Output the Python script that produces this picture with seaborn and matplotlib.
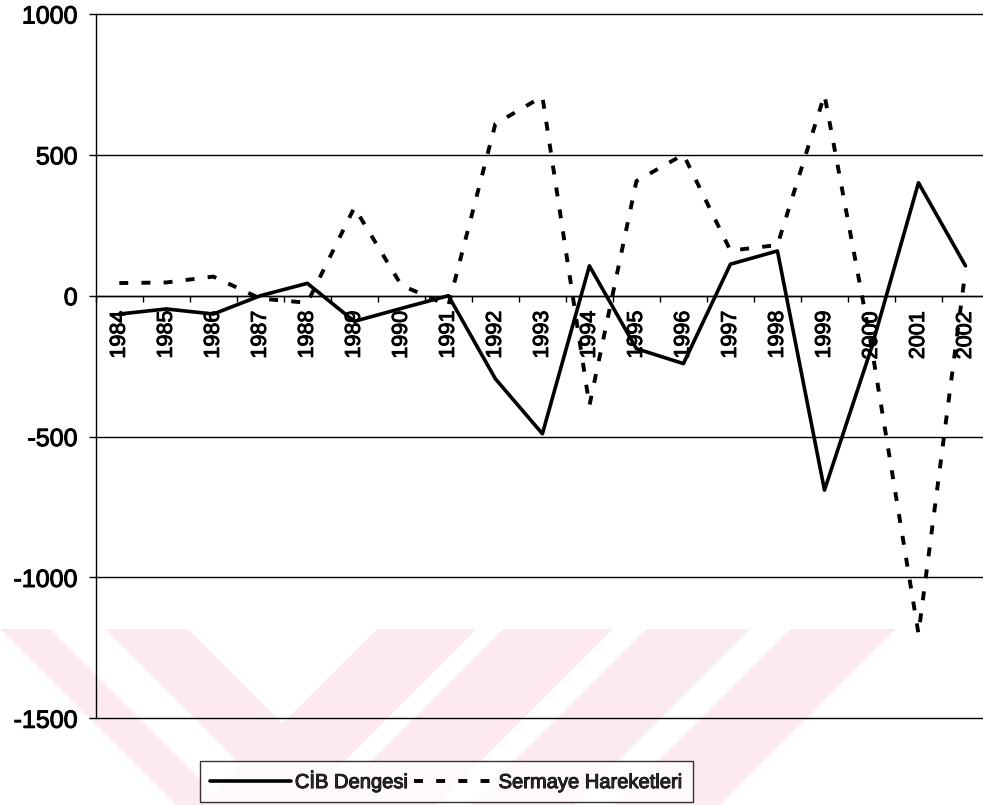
import numpy as np
import pandas as pd
import matplotlib.pyplot as plt
import matplotlib.patheffects as pe
import seaborn as sns
from matplotlib.patches import Polygon

# yillar ve seriler
years = [str(y) for y in range(1984, 2003)]
cib_dengesi = [-65, -47, -65, 0, 44, -91, -45, 0, -295, -490,
               106, -188, -241, 112, 159, -690, -185, 401, 106]
sermaye = [45, 47, 68, -10, -25, 313, 37, -35, 610, 707,
           -390, 407, 501, 160, 180, 713, -180, -1200, 90]
yticks = [-1500, -1000, -500, 0, 500, 1000]

df = pd.DataFrame({'yil': years, 'cib': cib_dengesi, 'sermaye': sermaye})

sns.set_style('white')
plt.rcParams['font.family'] = ['Liberation Sans', 'DejaVu Sans']

W, H = 983, 805
fig = plt.figure(figsize=(W / 100, H / 100), dpi=100)
fig.patch.set_facecolor('white')

# soluk pembe filigran (tarama izi)
pink = '#fdeaee'
top, bot = 629, 805
for x0, x1, d in [(0, 50, 1), (105, 188, 1), (377, 477, -1),
                  (503, 613, -1), (646, 750, -1), (790, 896, -1)]:
    s = d * (bot - top)
    pts = [(x0, top), (x1, top), (x1 + s, bot), (x0 + s, bot)]
    pts = [(px / W, 1 - py / H) for px, py in pts]
    fig.add_artist(Polygon(pts, closed=True, transform=fig.transFigure,
                           facecolor=pink, edgecolor='none', zorder=-5))

ax = fig.add_axes([95.8 / W, 1 - 718.3 / H, (989 - 95.8) / W, (718.3 - 14) / H])
ax.set_facecolor('none')

sns.lineplot(data=df, x='yil', y='cib', ax=ax, color='black', lw=2.6,
             label='CİB Dengesi', sort=False)
sns.lineplot(data=df, x='yil', y='sermaye', ax=ax, color='black', lw=2.8,
             linestyle=(0, (2.3, 3.4)), dash_capstyle='butt',
             label='Sermaye Hareketleri', sort=False)

ax.set_xlim(-0.5, len(years) - 0.5)
ax.set_ylim(-1500, 1000)
ax.set_yticks(yticks)
ax.set_yticklabels([str(v) for v in yticks])
ax.set_xticks(range(len(years)))
ax.set_xticklabels(years)
ax.set_xticks(np.arange(-0.5, len(years), 1), minor=True)
ax.set_xlabel('')
ax.set_ylabel('')

ax.yaxis.grid(True, color='black', lw=1)
ax.xaxis.grid(False)
for gl in ax.get_ygridlines():
    gl.set_clip_on(False)

for sp in ['top', 'right']:
    ax.spines[sp].set_visible(False)
ax.spines['left'].set_color('black')
ax.spines['left'].set_linewidth(1)
ax.spines['bottom'].set_position(('data', 0))
ax.spines['bottom'].set_color('black')
ax.spines['bottom'].set_linewidth(1)

ax.tick_params(axis='y', left=True, length=5, width=1, direction='out',
               labelsize=18, pad=8, colors='black')
ax.tick_params(axis='x', which='major', bottom=True, length=0,
               labelsize=15.5, labelrotation=90, pad=11, colors='black')
ax.tick_params(axis='x', which='minor', bottom=True, length=4, width=1,
               direction='out', colors='black')

thick = [pe.withStroke(linewidth=0.7, foreground='black')]
for t in ax.get_xticklabels() + ax.get_yticklabels():
    t.set_path_effects(thick)

if ax.get_legend() is not None:
    ax.get_legend().remove()
h, l = ax.get_legend_handles_labels()
leg = fig.legend(h, l, loc='center', bbox_to_anchor=(446.5 / W, 1 - 781.5 / H),
                 ncol=2, fontsize=14.5, frameon=True, fancybox=False,
                 edgecolor='black', handlelength=4, handletextpad=0.2,
                 columnspacing=0.3, borderpad=0.5)
leg.get_frame().set_linewidth(1)
for t in leg.get_texts():
    t.set_path_effects(thick)

fig.savefig('out.png', dpi=100)
